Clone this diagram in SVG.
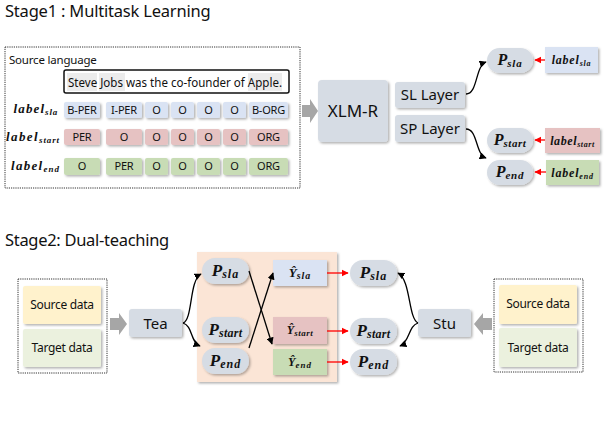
<svg xmlns="http://www.w3.org/2000/svg" width="608" height="422" viewBox="0 0 608 422">
<defs>
<filter id="sh" x="-20%" y="-20%" width="140%" height="150%"><feDropShadow dx="1.5" dy="1.5" stdDeviation="0.8" flood-color="#000" flood-opacity="0.3"/></filter>
<marker id="ab" viewBox="0 0 10 10" refX="9" refY="5" markerWidth="5.5" markerHeight="5.5" orient="auto"><path d="M0,0L10,5L0,10z" fill="#000"/></marker>
<marker id="ar" viewBox="0 0 10 10" refX="9" refY="5" markerWidth="5.5" markerHeight="5.5" orient="auto"><path d="M0,0L10,5L0,10z" fill="#ff0000"/></marker>
</defs>
<style>
.t{font-family:"Noto Sans","Open Sans",sans-serif;fill:#111}
.m{font-family:"Liberation Serif",serif;font-weight:bold;font-style:italic;fill:#111}
.blue{fill:#dae3f3}.pink{fill:#e6c2c2}.green{fill:#c8dcb5}.gray{fill:#d6dce4}
.yel{fill:#fff2cc}.lg{fill:#ebf1de}
.dot{fill:#fff;stroke:#333;stroke-width:1;stroke-dasharray:1.2 1}
.c{stroke:#000;stroke-width:1.3;fill:none;marker-end:url(#ab)}
.r{stroke:#ff0000;stroke-width:1.3;fill:none;marker-end:url(#ar)}
.blk{fill:#a6a6a6}
</style>

<text class="t" x="5" y="17" font-size="16.5" letter-spacing="-0.2">Stage1 : Multitask Learning</text>
<text class="t" x="5" y="246" font-size="16.5" letter-spacing="-0.3">Stage2: Dual-teaching</text>

<g id="source-language">
<rect class="dot" x="5" y="47" width="295" height="141"/>
<text class="t" x="9" y="64" font-size="11.5" letter-spacing="-0.2">Source language</text>
<rect x="64" y="70" width="225" height="23" rx="2" fill="#fff" stroke="#111" stroke-width="1.5"/>
<rect x="67" y="73" width="30" height="18" fill="#ececec"/>
<rect x="99" y="73" width="26" height="18" fill="#ececec"/>
<rect x="248" y="73" width="34" height="18" fill="#ececec"/>
<text class="t" x="68" y="87" font-size="12" textLength="214" lengthAdjust="spacingAndGlyphs">Steve Jobs was the co-founder of Apple.</text>

<text class="m" x="58" y="113" font-size="13" text-anchor="end" letter-spacing="1.1">label<tspan font-size="9" dy="2" letter-spacing="0.8">sla</tspan></text>
<text class="m" x="60" y="141" font-size="13" text-anchor="end" letter-spacing="1.4">label<tspan font-size="9" dy="2" letter-spacing="0.9">start</tspan></text>
<text class="m" x="60" y="170" font-size="13" text-anchor="end" letter-spacing="1.3">label<tspan font-size="9" dy="2" letter-spacing="1">end</tspan></text>

<g filter="url(#sh)">
<rect class="blue" x="64" y="102" width="36" height="16" rx="2"/>
<rect class="blue" x="106" y="102" width="36" height="16" rx="2"/>
<rect class="blue" x="145" y="102" width="23" height="16" rx="2"/>
<rect class="blue" x="171" y="102" width="23" height="16" rx="2"/>
<rect class="blue" x="197" y="102" width="23" height="16" rx="2"/>
<rect class="blue" x="223" y="102" width="23" height="16" rx="2"/>
<rect class="blue" x="249" y="102" width="39" height="16" rx="2"/>
<rect class="pink" x="64" y="129" width="36" height="16" rx="2"/>
<rect class="pink" x="106" y="129" width="36" height="16" rx="2"/>
<rect class="pink" x="145" y="129" width="23" height="16" rx="2"/>
<rect class="pink" x="171" y="129" width="23" height="16" rx="2"/>
<rect class="pink" x="197" y="129" width="23" height="16" rx="2"/>
<rect class="pink" x="223" y="129" width="23" height="16" rx="2"/>
<rect class="pink" x="249" y="129" width="39" height="16" rx="2"/>
<rect class="green" x="64" y="158" width="36" height="17" rx="2"/>
<rect class="green" x="106" y="158" width="36" height="17" rx="2"/>
<rect class="green" x="145" y="158" width="23" height="17" rx="2"/>
<rect class="green" x="171" y="158" width="23" height="17" rx="2"/>
<rect class="green" x="197" y="158" width="23" height="17" rx="2"/>
<rect class="green" x="223" y="158" width="23" height="17" rx="2"/>
<rect class="green" x="249" y="158" width="39" height="17" rx="2"/>
</g>
<g class="t" font-size="11" text-anchor="middle" letter-spacing="-0.2">
<text x="82" y="114">B-PER</text><text x="124" y="114">I-PER</text><text x="156.5" y="114">O</text><text x="182.5" y="114">O</text><text x="208.5" y="114">O</text><text x="234.5" y="114">O</text><text x="268.5" y="114">B-ORG</text>
<text x="82" y="141">PER</text><text x="124" y="141">O</text><text x="156.5" y="141">O</text><text x="182.5" y="141">O</text><text x="208.5" y="141">O</text><text x="234.5" y="141">O</text><text x="268.5" y="141">ORG</text>
<text x="82" y="170">O</text><text x="124" y="170">PER</text><text x="156.5" y="170">O</text><text x="182.5" y="170">O</text><text x="208.5" y="170">O</text><text x="234.5" y="170">O</text><text x="268.5" y="170">ORG</text>
</g>
</g>

<polygon class="blk" points="302,105 310,105 310,99 318,111 310,123 310,117 302,117"/>

<g id="xlmr"><rect class="gray" x="318" y="80" width="70" height="62" rx="4" filter="url(#sh)"/><text class="t" x="353" y="117" font-size="17" text-anchor="middle">XLM-R</text></g>
<g id="sl-layer"><rect class="gray" x="395" y="82" width="70" height="26" rx="3" filter="url(#sh)"/><text class="t" x="430" y="100" font-size="15" text-anchor="middle">SL Layer</text></g>
<g id="sp-layer"><rect class="gray" x="395" y="115" width="70" height="27" rx="3" filter="url(#sh)"/><text class="t" x="430" y="134" font-size="15" text-anchor="middle">SP Layer</text></g>

<g id="s1-psla"><rect class="gray" x="487" y="48" width="46" height="25" rx="12.5" filter="url(#sh)"/><text class="m" x="510" y="65" font-size="16" text-anchor="middle">P<tspan font-size="11" dy="2" letter-spacing="0.8">sla</tspan></text></g>
<g id="s1-pstart"><rect class="gray" x="487" y="128" width="46" height="25" rx="12.5" filter="url(#sh)"/><text class="m" x="510" y="145" font-size="16" text-anchor="middle">P<tspan font-size="11" dy="2" letter-spacing="0.5">start</tspan></text></g>
<g id="s1-pend"><rect class="gray" x="487" y="160" width="46" height="25" rx="12.5" filter="url(#sh)"/><text class="m" x="510" y="177" font-size="16" text-anchor="middle">P<tspan font-size="11" dy="2" letter-spacing="0.8">end</tspan></text></g>
<g id="s1-lsla"><rect class="blue" x="545" y="47" width="53" height="26" filter="url(#sh)"/><text class="m" x="571.5" y="64" font-size="12" text-anchor="middle" letter-spacing="0.8">label<tspan font-size="8" dy="2">sla</tspan></text></g>
<g id="s1-lstart"><rect class="pink" x="545" y="128" width="55" height="25" filter="url(#sh)"/><text class="m" x="572.5" y="145" font-size="12" text-anchor="middle" letter-spacing="0.6">label<tspan font-size="8" dy="2">start</tspan></text></g>
<g id="s1-lend"><rect class="green" x="546" y="160" width="53" height="25" filter="url(#sh)"/><text class="m" x="572.5" y="177" font-size="12" text-anchor="middle" letter-spacing="0.8">label<tspan font-size="8" dy="2">end</tspan></text></g>

<g id="s2-left-data">
<rect class="dot" x="18" y="279" width="89" height="94"/>
<rect class="yel" x="23" y="286" width="78" height="38" rx="2" filter="url(#sh)"/>
<rect class="lg" x="23" y="329" width="78" height="38" rx="2" filter="url(#sh)"/>
<text class="t" x="62" y="309" font-size="12" text-anchor="middle" letter-spacing="-0.3">Source data</text>
<text class="t" x="62" y="352" font-size="12" text-anchor="middle" letter-spacing="-0.3">Target data</text>
</g>
<polygon class="blk" points="110,318 119,318 119,313 127,324 119,335 119,330 110,330"/>
<g id="tea"><rect class="gray" x="129" y="309" width="53" height="28" rx="3" filter="url(#sh)"/><text class="t" x="155.5" y="329" font-size="15" text-anchor="middle">Tea</text></g>

<rect id="peach" x="197" y="252" width="140" height="130" fill="#fbe5d6" filter="url(#sh)"/>
<g id="s2-psla"><rect class="gray" x="202" y="258" width="47" height="26" rx="13" filter="url(#sh)"/><text class="m" x="225.5" y="276" font-size="17" text-anchor="middle">P<tspan font-size="12" dy="2" letter-spacing="1">sla</tspan></text></g>
<g id="s2-pstart"><rect class="gray" x="202" y="317" width="47" height="26" rx="13" filter="url(#sh)"/><text class="m" x="225.5" y="335" font-size="17" text-anchor="middle">P<tspan font-size="12" dy="2" letter-spacing="0.3">start</tspan></text></g>
<g id="s2-pend"><rect class="gray" x="202" y="348" width="47" height="26" rx="13" filter="url(#sh)"/><text class="m" x="225.5" y="366" font-size="17" text-anchor="middle">P<tspan font-size="12" dy="2" letter-spacing="1">end</tspan></text></g>
<g id="s2-ysla"><rect class="blue" x="273" y="260" width="54" height="26" filter="url(#sh)"/><text class="m" x="300" y="277" font-size="13" text-anchor="middle">Ŷ<tspan font-size="10" dy="2" letter-spacing="1">sla</tspan></text></g>
<g id="s2-ystart"><rect class="pink" x="273" y="317" width="54" height="27" filter="url(#sh)"/><text class="m" x="300" y="334" font-size="12" text-anchor="middle">Ŷ<tspan font-size="9" dy="2" letter-spacing="0.5">start</tspan></text></g>
<g id="s2-yend"><rect class="green" x="273" y="349" width="54" height="26" filter="url(#sh)"/><text class="m" x="300" y="366" font-size="12" text-anchor="middle">Ŷ<tspan font-size="9" dy="2" letter-spacing="1">end</tspan></text></g>
<g id="s2-rsla"><rect class="gray" x="350" y="260" width="47" height="26" rx="13" filter="url(#sh)"/><text class="m" x="373.5" y="278" font-size="17" text-anchor="middle">P<tspan font-size="12" dy="2" letter-spacing="1">sla</tspan></text></g>
<g id="s2-rstart"><rect class="gray" x="350" y="318" width="47" height="26" rx="13" filter="url(#sh)"/><text class="m" x="373.5" y="336" font-size="17" text-anchor="middle">P<tspan font-size="12" dy="2" letter-spacing="0.3">start</tspan></text></g>
<g id="s2-rend"><rect class="gray" x="350" y="349" width="47" height="26" rx="13" filter="url(#sh)"/><text class="m" x="373.5" y="367" font-size="17" text-anchor="middle">P<tspan font-size="12" dy="2" letter-spacing="1">end</tspan></text></g>

<g id="stu"><rect class="gray" x="418" y="309" width="53" height="28" rx="3" filter="url(#sh)"/><text class="t" x="444.5" y="329" font-size="15" text-anchor="middle">Stu</text></g>
<polygon class="blk" points="492,318 483,318 483,313 474,324 483,335 483,330 492,330"/>
<g id="s2-right-data">
<rect class="dot" x="494" y="279" width="89" height="93"/>
<rect class="yel" x="499" y="285" width="78" height="39" rx="2" filter="url(#sh)"/>
<rect class="lg" x="499" y="328" width="78" height="39" rx="2" filter="url(#sh)"/>
<text class="t" x="538" y="308" font-size="12" text-anchor="middle" letter-spacing="-0.3">Source data</text>
<text class="t" x="538" y="352" font-size="12" text-anchor="middle" letter-spacing="-0.3">Target data</text>
</g>

<g id="connectors">
<path class="c" d="M466,94 C478,94 475,66 486,62"/>
<path class="c" d="M466,129 C478,129 475,154 486,158"/>
<path class="r" d="M545,60 L535,60"/>
<path class="r" d="M545,140 L535,140"/>
<path class="r" d="M546,172 L535,172"/>
<path class="c" d="M183,323 C193,320 189,280 201,274"/>
<path class="c" d="M183,323 C193,326 190,342 200,346"/>
<path class="c" d="M249,271 L272,344"/>
<path class="c" d="M249,348 L273,273"/>
<path class="r" d="M327,273 L348,273"/>
<path class="r" d="M327,331 L348,331"/>
<path class="r" d="M327,362 L348,362"/>
<path class="c" d="M418,323 C408,318 411,280 398,273"/>
<path class="c" d="M418,323 C408,326 410,342 400,346"/>
</g>
</svg>
